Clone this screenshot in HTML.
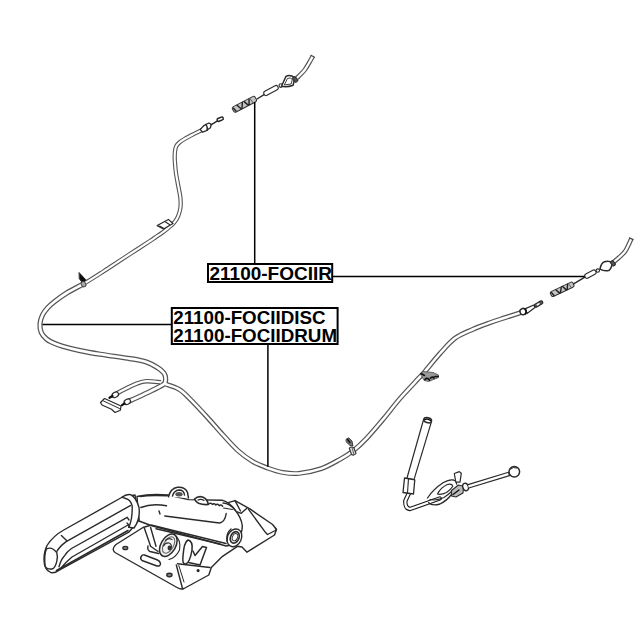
<!DOCTYPE html>
<html><head><meta charset="utf-8">
<style>
html,body{margin:0;padding:0;background:#fff;width:640px;height:640px;overflow:hidden}
svg{display:block}
.draw{filter:blur(0.3px)}
text{font-family:"Liberation Sans",sans-serif;font-weight:bold;fill:#000}
.cab{fill:none;stroke:#3a3a3a;stroke-width:5.4;stroke-linecap:butt;stroke-linejoin:round}
.cabi{fill:none;stroke:#fff;stroke-width:2.9;stroke-linecap:butt;stroke-linejoin:round}
.ln{fill:none;stroke:#222;stroke-width:1.1;stroke-linejoin:round;stroke-linecap:round}
.lw{fill:#fff;stroke:#222;stroke-width:1.1;stroke-linejoin:round}
</style></head>
<body>
<svg width="640" height="640" viewBox="0 0 640 640">
<defs><filter id="soft" x="-5%" y="-5%" width="110%" height="110%"><feGaussianBlur stdDeviation="0.3"/></filter></defs>
<rect width="640" height="640" fill="#fff"/>
<g filter="url(#soft)">

<path fill="none" stroke="#555" stroke-width="4.6" stroke-linejoin="round" d="M161.00,382.30 C158.57,382.12 150.37,381.02 146.40,381.20 C142.43,381.38 141.08,381.93 137.20,383.40 C133.32,384.87 126.63,388.23 123.10,390.00 C119.57,391.77 117.18,393.33 116.00,394.00"/>
<path fill="none" stroke="#555" stroke-width="4.9" stroke-linejoin="round" d="M165.00,384.00 C167.37,384.90 175.00,386.87 179.20,389.40 C183.40,391.93 185.48,394.52 190.20,399.20 C194.92,403.88 202.12,411.63 207.50,417.50 C212.88,423.37 217.50,428.95 222.50,434.40 C227.50,439.85 232.50,445.70 237.50,450.20 C242.50,454.70 247.50,458.43 252.50,461.40 C257.50,464.37 262.50,466.17 267.50,468.00 C272.50,469.83 277.29,471.50 282.50,472.40 C287.71,473.30 292.29,474.03 298.75,473.40 C305.21,472.77 314.38,470.95 321.25,468.60 C328.12,466.25 334.69,462.25 340.00,459.30 C345.31,456.35 348.73,454.33 353.10,450.90 C357.48,447.47 361.23,443.98 366.25,438.70 C371.27,433.42 377.57,425.90 383.20,419.20 C388.82,412.50 394.07,405.33 400.00,398.50 C405.93,391.67 414.67,382.62 418.75,378.20 C422.83,373.78 420.96,376.12 424.50,372.00 C428.04,367.88 434.92,359.12 440.00,353.50 C445.08,347.88 449.58,342.30 455.00,338.30 C460.42,334.30 466.67,332.10 472.50,329.50 C478.33,326.90 484.58,324.67 490.00,322.70 C495.42,320.73 499.75,319.42 505.00,317.70 C510.25,315.98 518.75,313.28 521.50,312.40"/>
<path fill="none" stroke="#555" stroke-width="4.6" stroke-linejoin="round" d="M297.00,78.00 C297.67,77.33 299.67,75.42 301.00,74.00 C302.33,72.58 303.67,71.33 305.00,69.50 C306.33,67.67 307.70,65.21 309.00,63.00 C310.30,60.79 312.17,57.38 312.80,56.25"/>
<path fill="none" stroke="#555" stroke-width="4.6" stroke-linejoin="round" d="M612.70,262.80 C613.75,261.92 617.00,259.32 619.00,257.50 C621.00,255.68 623.12,253.98 624.70,251.90 C626.28,249.82 627.40,247.19 628.50,245.00 C629.60,242.81 630.83,239.79 631.30,238.75"/>
<path fill="none" stroke="#555" stroke-width="4.3" stroke-linejoin="round" d="M201.90,130.00 C200.43,130.73 195.92,132.94 193.10,134.40 C190.28,135.86 187.28,137.40 185.00,138.75 C182.72,140.10 180.86,141.25 179.40,142.50 C177.94,143.75 176.98,144.79 176.25,146.25 C175.52,147.71 175.26,149.38 175.00,151.25 C174.74,153.12 174.70,155.54 174.70,157.50 C174.70,159.46 174.80,160.50 175.00,163.00 C175.20,165.50 175.38,168.83 175.90,172.50 C176.42,176.17 177.37,180.92 178.10,185.00 C178.83,189.08 179.88,193.46 180.30,197.00 C180.72,200.54 180.75,203.67 180.60,206.25 C180.45,208.83 180.02,210.42 179.40,212.50 C178.78,214.58 177.95,216.88 176.90,218.75 C175.85,220.62 174.57,222.19 173.10,223.75 C171.63,225.31 169.87,226.64 168.10,228.10 C166.33,229.56 164.68,230.92 162.50,232.50 C160.32,234.08 157.08,236.18 155.00,237.60 C152.92,239.02 154.17,238.27 150.00,241.00 C145.83,243.73 136.67,249.65 130.00,254.00 C123.33,258.35 114.38,264.23 110.00,267.10 C105.62,269.97 107.92,268.55 103.75,271.20 C99.58,273.85 91.04,279.45 85.00,283.00"/>
<path fill="none" stroke="#555" stroke-width="5.2" stroke-linejoin="round" d="M85.00,283.00 C78.96,286.55 72.50,289.46 67.50,292.50 C62.50,295.54 58.33,298.67 55.00,301.25 C51.67,303.83 49.58,305.71 47.50,308.00 C45.42,310.29 43.75,312.38 42.50,315.00 C41.25,317.62 40.21,320.83 40.00,323.75 C39.79,326.67 40.21,330.00 41.25,332.50 C42.29,335.00 44.58,337.18 46.25,338.75 C47.92,340.32 48.54,340.65 51.25,341.90 C53.96,343.15 57.71,344.80 62.50,346.25 C67.29,347.70 73.75,349.28 80.00,350.60 C86.25,351.93 91.67,352.87 100.00,354.20 C108.33,355.53 122.27,357.30 130.00,358.60 C137.73,359.90 141.84,360.52 146.40,362.00 C150.96,363.48 154.43,365.67 157.35,367.50 C160.27,369.33 162.53,371.18 163.90,373.00 C165.28,374.82 165.60,376.57 165.60,378.40 C165.60,380.23 166.18,381.98 163.90,384.00 C161.62,386.02 156.35,388.25 151.90,390.50 C147.45,392.75 141.18,395.67 137.20,397.50 C133.22,399.33 129.53,400.83 128.00,401.50"/>
<path fill="none" stroke="#fff" stroke-width="2.2" stroke-linejoin="round" d="M161.00,382.30 C158.57,382.12 150.37,381.02 146.40,381.20 C142.43,381.38 141.08,381.93 137.20,383.40 C133.32,384.87 126.63,388.23 123.10,390.00 C119.57,391.77 117.18,393.33 116.00,394.00"/>
<path fill="none" stroke="#fff" stroke-width="2.5" stroke-linejoin="round" d="M165.00,384.00 C167.37,384.90 175.00,386.87 179.20,389.40 C183.40,391.93 185.48,394.52 190.20,399.20 C194.92,403.88 202.12,411.63 207.50,417.50 C212.88,423.37 217.50,428.95 222.50,434.40 C227.50,439.85 232.50,445.70 237.50,450.20 C242.50,454.70 247.50,458.43 252.50,461.40 C257.50,464.37 262.50,466.17 267.50,468.00 C272.50,469.83 277.29,471.50 282.50,472.40 C287.71,473.30 292.29,474.03 298.75,473.40 C305.21,472.77 314.38,470.95 321.25,468.60 C328.12,466.25 334.69,462.25 340.00,459.30 C345.31,456.35 348.73,454.33 353.10,450.90 C357.48,447.47 361.23,443.98 366.25,438.70 C371.27,433.42 377.57,425.90 383.20,419.20 C388.82,412.50 394.07,405.33 400.00,398.50 C405.93,391.67 414.67,382.62 418.75,378.20 C422.83,373.78 420.96,376.12 424.50,372.00 C428.04,367.88 434.92,359.12 440.00,353.50 C445.08,347.88 449.58,342.30 455.00,338.30 C460.42,334.30 466.67,332.10 472.50,329.50 C478.33,326.90 484.58,324.67 490.00,322.70 C495.42,320.73 499.75,319.42 505.00,317.70 C510.25,315.98 518.75,313.28 521.50,312.40"/>
<path fill="none" stroke="#fff" stroke-width="2.2" stroke-linejoin="round" d="M297.00,78.00 C297.67,77.33 299.67,75.42 301.00,74.00 C302.33,72.58 303.67,71.33 305.00,69.50 C306.33,67.67 307.70,65.21 309.00,63.00 C310.30,60.79 312.17,57.38 312.80,56.25"/>
<path fill="none" stroke="#fff" stroke-width="2.2" stroke-linejoin="round" d="M612.70,262.80 C613.75,261.92 617.00,259.32 619.00,257.50 C621.00,255.68 623.12,253.98 624.70,251.90 C626.28,249.82 627.40,247.19 628.50,245.00 C629.60,242.81 630.83,239.79 631.30,238.75"/>
<path fill="none" stroke="#fff" stroke-width="2.1" stroke-linejoin="round" d="M201.90,130.00 C200.43,130.73 195.92,132.94 193.10,134.40 C190.28,135.86 187.28,137.40 185.00,138.75 C182.72,140.10 180.86,141.25 179.40,142.50 C177.94,143.75 176.98,144.79 176.25,146.25 C175.52,147.71 175.26,149.38 175.00,151.25 C174.74,153.12 174.70,155.54 174.70,157.50 C174.70,159.46 174.80,160.50 175.00,163.00 C175.20,165.50 175.38,168.83 175.90,172.50 C176.42,176.17 177.37,180.92 178.10,185.00 C178.83,189.08 179.88,193.46 180.30,197.00 C180.72,200.54 180.75,203.67 180.60,206.25 C180.45,208.83 180.02,210.42 179.40,212.50 C178.78,214.58 177.95,216.88 176.90,218.75 C175.85,220.62 174.57,222.19 173.10,223.75 C171.63,225.31 169.87,226.64 168.10,228.10 C166.33,229.56 164.68,230.92 162.50,232.50 C160.32,234.08 157.08,236.18 155.00,237.60 C152.92,239.02 154.17,238.27 150.00,241.00 C145.83,243.73 136.67,249.65 130.00,254.00 C123.33,258.35 114.38,264.23 110.00,267.10 C105.62,269.97 107.92,268.55 103.75,271.20 C99.58,273.85 91.04,279.45 85.00,283.00"/>
<path fill="none" stroke="#fff" stroke-width="2.7" stroke-linejoin="round" d="M85.00,283.00 C78.96,286.55 72.50,289.46 67.50,292.50 C62.50,295.54 58.33,298.67 55.00,301.25 C51.67,303.83 49.58,305.71 47.50,308.00 C45.42,310.29 43.75,312.38 42.50,315.00 C41.25,317.62 40.21,320.83 40.00,323.75 C39.79,326.67 40.21,330.00 41.25,332.50 C42.29,335.00 44.58,337.18 46.25,338.75 C47.92,340.32 48.54,340.65 51.25,341.90 C53.96,343.15 57.71,344.80 62.50,346.25 C67.29,347.70 73.75,349.28 80.00,350.60 C86.25,351.93 91.67,352.87 100.00,354.20 C108.33,355.53 122.27,357.30 130.00,358.60 C137.73,359.90 141.84,360.52 146.40,362.00 C150.96,363.48 154.43,365.67 157.35,367.50 C160.27,369.33 162.53,371.18 163.90,373.00 C165.28,374.82 165.60,376.57 165.60,378.40 C165.60,380.23 166.18,381.98 163.90,384.00 C161.62,386.02 156.35,388.25 151.90,390.50 C147.45,392.75 141.18,395.67 137.20,397.50 C133.22,399.33 129.53,400.83 128.00,401.50"/>
<g id="lever" fill="#fff" stroke="#2a2a2a" stroke-width="1.4" stroke-linejoin="round" stroke-linecap="round">
  <!-- base plate -->
  <path d="M116,544.5 L143,527.5 L235,500.6 L250.3,509.2 L272.6,524.5 L276.5,529.5 L274.5,535 L247,552.2 L242,547 L237.5,546.3 L222.5,556.3 L211.3,567.5 L208.8,575 L184,588.5 Q181,590 177,587.5 L115,552.5 Q111,549 116,544.5 Z"/>
  <!-- right bracket inner tab line -->
  <path d="M248.4,509.2 L265.6,532.6 L267.5,534.5 L276.3,530 L275.3,528" fill="none"/>
  <path d="M235.2,511.2 L241.2,513.3 L246.8,508.3" fill="none"/>
  <path d="M235,500.6 L240.5,511" fill="none"/>
  <!-- plate bend line -->
  <path d="M176.3,565 L182.5,588.5" fill="none"/>
  <path d="M178.8,565.5 L184,582" fill="none" stroke-width="1"/>
  <path d="M177.5,563.8 L210,567.5" fill="none"/>
  <!-- slot -->
  <path d="M141.5,556 Q139.5,558.5 142,560.5 L157,566 Q160.5,566.5 160.5,563.5 Q160,561 157.5,560 L144.5,555 Q142.5,554.5 141.5,556 Z"/>
  <ellipse cx="125.3" cy="548" rx="2.4" ry="1.6" fill="#888"/>
  <ellipse cx="169.4" cy="575" rx="2.6" ry="1.7" fill="#888"/>
  <circle cx="198.1" cy="570.6" r="0.9" fill="#444"/>
  <!-- leg -->
  <path d="M144.4,528.3 L150.6,546.3 L158,551.5" fill="none"/>
  <path d="M150.6,527.5 L156,546.3" fill="none"/>
  <path d="M148,546 Q147,550 150,551.5 L158.5,553.5" fill="none"/>
  <!-- spring -->
  <path d="M174.5,534.8 Q181.5,540 179.5,550 Q176,557.5 169,559.5" fill="none" stroke-width="1.1"/>
  <ellipse cx="168.3" cy="545.2" rx="7.4" ry="12.2" transform="rotate(30 168.3 545.2)" fill="#f2f2f2" stroke-width="1.5"/>
  <ellipse cx="168.6" cy="545" rx="4.9" ry="9" transform="rotate(30 168.6 545)" fill="none" stroke="#666" stroke-width="1.1"/>
  <path d="M165.5,540.5 Q168,537.5 172,539.5 M163.5,546 Q165,542.5 169,543 Q172.5,544.5 171,548.5" fill="none" stroke="#333" stroke-width="1.2"/>
  <ellipse cx="169.5" cy="548" rx="2" ry="2.4" fill="#333" stroke="none"/>
  <!-- bracket loop -->
  <path d="M188,540 Q193,541 192,550 Q190,562 186,564 Q182,565 183,556 Q184,542 188,540 Z" fill="none" stroke-width="1.5"/>
  <path d="M188.5,562.5 L200,565 L206.5,547.5 L202.5,546.5 L195,555.5 L193,551" fill="none" stroke-width="1.5"/>
  <!-- lever body -->
  <path d="M137,496.5 Q150,493.5 168,495 L188.5,499.6 L222,500.2 Q230,502.5 235.2,510.2 Q241,517 242.3,525.5 Q242.3,534 237.2,540.7 L236,544 L226.2,546 L151,525.5 L139,521 Z"/>
  <path d="M151,525 L226,543.5" fill="none"/>
  <path d="M140,496.5 Q150,494.8 167.5,495.8" fill="none"/>
  <path d="M156,528.8 L220,544" fill="none"/>
  <path d="M140.8,507.5 Q152,503 166.5,505.8" fill="none"/>
  <path d="M164.8,516 L219.4,523 Q225,522 226.2,513.5" fill="none"/>
  <path d="M159,511 L160,514" fill="none"/>
  <!-- coil threads on top -->
  <path d="M194.5,499 Q198,495.8 202.5,497 Q207.5,499 208.3,504.5 Q203,505 198.5,503.2 Q195.5,501.5 194.5,499 Z" stroke-width="1.6"/>
  <path d="M198,500 Q201,498.5 204,500.5" fill="none" stroke-width="1.2"/>
  <path d="M209,503.8 q1.8,-1.6 3.4,0.6 q1.8,-1.6 3.4,0.6 q1.8,-1.6 3.4,0.6 q1.8,-1.6 3.4,0.6" fill="none" stroke-width="1.5"/>
  <path d="M223,503 Q230,503.5 235.2,510.2" fill="none"/>
  <path d="M223.5,508 L232.5,509.5" fill="none" stroke-width="1.1"/>
  <!-- bolt -->
  <ellipse cx="234.4" cy="537.8" rx="7" ry="9.2" transform="rotate(25 234.4 537.8)"/>
  <ellipse cx="234.8" cy="537.4" rx="4.2" ry="6" transform="rotate(25 234.8 537.4)" fill="none" stroke-width="1.6"/>
  <ellipse cx="235" cy="537.2" rx="2.5" ry="3.8" transform="rotate(25 235 537.2)" fill="none" stroke-width="0.9"/>
  <path d="M231,529 Q226,533 227,541" fill="none"/>
  <!-- eye ring on top -->
  <path d="M168.5,496.8 Q170.5,488.5 177.5,487.3 Q185.5,486.8 187.5,492.5 L188.5,498" />
  <path d="M172.5,496 Q174,490.5 179,490 Q184,490 184.5,495" fill="none"/>
  <ellipse cx="179" cy="494.3" rx="3.6" ry="2.2" fill="#555" stroke="none"/>
  <!-- grip -->
  <path d="M122.5,497 L63.8,530 Q53,536 47,545.5 Q43.8,552 44,560 Q44.2,570 51,572.6 Q55,573.2 58.3,570.6 L128.8,532.2 L139,520 L135,495 Z"/>
  <path d="M46.6,548.8 Q52,546.3 56.8,552.7 Q58,557 56.8,561.3 Q55,568.5 52,569 Q46.5,569.5 45,566 Q44,554 46.6,548.8 Z" fill="none"/>
  <path d="M56.8,551.5 Q59.5,546.5 66.2,541.6 L130.3,505.6" fill="none"/>
  <path d="M61.4,535.5 L66.6,540.5" fill="none"/>
  <path d="M59,566.7 Q61,559.5 64,556.5 Q67,551.5 71.5,548.5 L127.2,517.3 L129,520" fill="none"/>
  <path d="M61.5,567.5 Q66,562 72,557 L128,525" fill="none"/>
  <path d="M56.5,570.5 L128,530.5" fill="none" stroke-width="1.6"/>
  <!-- collar -->
  <path d="M121.9,497.2 Q126,494 130.5,494.6 Q136,497 139,507.5 Q140.5,519 134,528 L128.7,527.3 Q132.5,520 132.2,506 Q130.5,500 127,499 Z"/>
  <path d="M127,523 Q130,526 128.7,527.3" fill="none"/>
</g>

<g id="details" stroke="#2a2a2a" stroke-width="1.1" fill="#fff" stroke-linejoin="round" stroke-linecap="round">
  <!-- ===== top-left fitting (cable R end at top) ===== -->
  <g transform="translate(244.4,104.3) rotate(-27.5)">
    <rect x="-12.8" y="-3" width="25.6" height="6" rx="2" fill="#c4c4c4" stroke="#333" stroke-width="1"/>
    <path d="M-11.5,-1.5 L-10.5,2 M-7,-2.5 L-5,2.5 M-4,2.5 L-1,-2.5 M1,-2.5 L3,2.5 M4,2.5 L6.5,-2.5" stroke="#222" stroke-width="1.4"/>
    <path d="M7.5,-3 L8.5,3" stroke="#555" stroke-width="0.8"/>
  </g>
  <path d="M257,99 L264.1,94.6" fill="none" stroke-width="1.4"/>
  <g transform="translate(271,90.5) rotate(-28)">
    <rect x="-7.8" y="-2.3" width="15.6" height="4.6" rx="2"/>
  </g>
  <circle cx="280.8" cy="85.6" r="1.8"/>
  <path d="M281.5,86.3 L286,76.3 Q290,74.2 294.8,77.8 L293.2,85.2 Q287,87.5 281.5,86.3 Z" stroke-width="1.5"/>
  <path d="M284.5,84.6 L287.5,78.4 Q290.5,77 292.3,79.5 L291.3,83.6 Z" fill="#fff" stroke-width="0.9"/>
  <g transform="translate(295.2,79.4) rotate(-40)"><rect x="-1.7" y="-2.7" width="3.4" height="5.4" rx="0.8" fill="#555" stroke-width="1"/></g>

  <path d="M311,55.2 L314.6,57.3 M629.4,237.9 L633.2,239.6" fill="none" stroke="#4a4a4a" stroke-width="1.2"/>
  <!-- ===== top-right fitting ===== -->
  <g transform="translate(562.2,289.3) rotate(-25.6)">
    <rect x="-12.5" y="-2.7" width="25" height="5.4" rx="2" fill="#c4c4c4" stroke="#333" stroke-width="1"/>
    <path d="M-11,-1.5 L-10,2 M-6,-2.3 L-4,2.3 M-3,2.3 L0,-2.3 M1.5,-2.3 L3.5,2.3 M4.5,2.3 L7,-2.3" stroke="#222" stroke-width="1.4"/>
    <path d="M8,-2.7 L9,2.7" stroke="#555" stroke-width="0.8"/>
  </g>
  <path d="M573.6,283.9 L585.3,276.9" fill="none" stroke-width="1.4"/>
  <g transform="translate(590.4,274.1) rotate(-28)">
    <rect x="-6" y="-2.3" width="12" height="4.6" rx="2"/>
  </g>
  <circle cx="597.8" cy="270.6" r="1.7"/>
  <path d="M600,269.2 Q601,263 604.5,261.8 Q609,260.5 612.4,262.8 Q611.5,268.5 608.7,270.6 Q604,271.5 600,269.2 Z" stroke-width="1.5"/>
  <g transform="translate(612.9,263.3) rotate(-40)"><rect x="-1.6" y="-2.6" width="3.2" height="5.2" rx="0.8" fill="#555" stroke-width="1"/></g>

  <!-- ===== left cable tip ferrule ===== -->
  <path d="M200.3,129.4 L204.2,125.3 L208.8,123 L211.3,124.3 L210.4,127.8 L206,130.8 L202.3,132.2 Z" stroke-width="1.3"/>
  <path d="M205.8,124.6 Q208,127 207.2,130.3" fill="none" stroke-width="1.4"/>
  <path d="M211,124.8 L217.5,120.8" fill="none" stroke-width="1.5"/>
  <g transform="translate(220.2,119.2) rotate(-22)">
    <rect x="-3.2" y="-1.5" width="6.4" height="3" rx="1.4" fill="#fff" stroke="#222" stroke-width="1.4"/>
  </g>
  <!-- ===== right cable tip ferrule ===== -->
  <path d="M525.5,308.6 L533.8,305 L535,307.6 L527,313.6 Z" stroke-width="1.2"/>
  <ellipse cx="523" cy="311.6" rx="3" ry="3.1" stroke-width="1.5" transform="rotate(-28 523 311.6)"/>
  <path d="M525.2,309 Q527,311.5 525.5,314" fill="none" stroke="#111" stroke-width="1.5"/>
  <g transform="translate(538.6,304) rotate(-30)">
    <rect x="-4.6" y="-1.7" width="9.2" height="3.4" rx="1.5" fill="#555" stroke="#222" stroke-width="1"/>
    <ellipse cx="-0.5" cy="0" rx="1.8" ry="0.8" fill="#fff" stroke="none"/>
  </g>
  <!-- ===== clips on cable ===== -->
  <!-- clip left upper at (165,225) -->
  <path d="M157.2,225.6 L168.4,219.4 L173,223.5 L163.5,229 Z" stroke-width="1.2"/>
  <path d="M159.5,226 L163.5,228.2 M165.5,222 L169.5,224.5" fill="none" stroke-width="1.1"/>
  <!-- black arrow tab at (82,278) -->
  <path d="M79.3,272.8 L85.8,279.8 L83,283.5 L79.5,279 Z" fill="#111" stroke="#111" stroke-width="0.8"/>
  <ellipse cx="83.5" cy="284.2" rx="2.2" ry="2.8" transform="rotate(-30 83.5 284.2)" fill="#aaa" stroke="#444" stroke-width="0.9"/>
  <!-- clip at (353,450) -->
  <path d="M346.5,439 L348.8,437.8 L352,441 L353,446 L350,445.5 L346.3,442 Z" fill="#777" stroke="#333" stroke-width="0.9"/>
  <path d="M347.5,439.5 L350,442.5" fill="none" stroke="#111" stroke-width="1.5"/>
  <path d="M349.3,448.2 Q351.5,446 354,448 L356,453.5 Q354,456 351.5,454.5 Z" fill="#ddd" stroke="#333" stroke-width="1.1"/>
  <path d="M352,447.5 L354,454.5" fill="none" stroke="#555" stroke-width="0.9"/>
  <!-- clip at (430,377) -->
  <path d="M420.5,373.5 L423,371.5 L433,372.5 L438.5,375 L438.5,377.5 L428.5,381.5 L424.5,380.5 Z" fill="#9a9a9a" stroke="#555" stroke-width="0.9"/>
  <path d="M425,379.5 Q427,377 429.5,380 M430.5,378 Q433,376.5 434,378 M435,376.5 L438,376.5" fill="none" stroke="#111" stroke-width="1.7"/>
  <path d="M421,373.5 L424.5,375.5" fill="none" stroke="#111" stroke-width="1.5"/>

  <!-- ===== bracket at bottom of equalizer (100-122,397-412) ===== -->
  <path d="M100.5,402.5 L104.5,398.5 L121,406 L120.3,410.3 L115,412.5 L111.5,409.2 L102,405 Z" stroke-width="1.2"/>
  <path d="M103.5,401 L119.5,408.5" fill="none" stroke-width="1"/>
  <ellipse cx="115.3" cy="394.8" rx="3.4" ry="2.5" transform="rotate(-28 115.3 394.8)" stroke-width="1.2"/>
  <path d="M109.5,397.8 L112.5,396" fill="none" stroke-width="2.2" stroke="#111"/>
  <ellipse cx="127.3" cy="401.8" rx="3.4" ry="2.5" transform="rotate(-28 127.3 401.8)" stroke-width="1.2"/>
  <path d="M122,405.2 L124.6,403.4" fill="none" stroke-width="2.2" stroke="#111"/>

  <!-- ===== bottom-right cable assembly ===== -->
  <!-- tube bend -->
  <path d="M409,493 L405.3,501 Q405,508.5 410,509 L439.7,498.5" fill="none" stroke="#1a1a1a" stroke-width="4.4"/>
  <path d="M409,493 L405.3,501 Q405,508.5 410,509 L439.7,498.5" fill="none" stroke="#fff" stroke-width="2.2"/>
  <!-- rod -->
  <path d="M423.3,420.5 L407,478 L414,479.6 L431.4,421.8 Z" stroke-width="1.2"/>
  <ellipse cx="427.6" cy="420.2" rx="4" ry="2.5" transform="rotate(18 427.6 420.2)" stroke-width="1.5"/>
  <path d="M424.8,419.6 Q427.5,418 430.3,420.5" fill="none" stroke="#111" stroke-width="1.6"/>
  <!-- hex nut -->
  <path d="M404.5,478 L414.8,479.8 L413.5,494 L403,492.5 Z" stroke-width="1.3"/>
  <path d="M408.5,478.5 L407.5,493" fill="none"/>
  <!-- clamp loops -->
  <path d="M427.5,498 Q433,489.5 443,482.8 Q449.5,479 453.5,480 Q457,481.5 456.5,484" fill="none" stroke-width="1.3"/>
  <path d="M428.6,502.8 Q432,506.2 440,504 Q447,500.5 451,495 Q454.5,489.5 458,485.5" fill="none" stroke-width="1.3"/>
  <path d="M430,499.5 Q436,501 444,497.5 Q449,494 452,491" fill="none" stroke-width="1.1"/>
  <path d="M437.5,494 Q441,487.2 447.5,484.5 Q452,483.3 452.8,486.3 Q450.5,490 446.5,492.5 Q441,495.2 437.5,494 Z" fill="none" stroke-width="1.2"/>
  <path d="M451.5,490.5 L458.5,485 L463.5,486.2 L463,493 L456,497 L451.5,496 Z" fill="#bbb" stroke-width="1.1"/>
  <path d="M453,494.5 L459,490" fill="none" stroke="#111" stroke-width="1.4"/>
  <!-- tab -->
  <path d="M454.3,473.5 L459.3,471.6 L461.3,473.2 L460,482.2 L455.8,482.2 Z" stroke-width="1.2"/>
  <!-- fitting -->
  <ellipse cx="465.6" cy="487" rx="2.7" ry="3.8" transform="rotate(-20 465.6 487)" stroke-width="1.4"/>
  <!-- rod right -->
  <path d="M468,484.6 L508.5,472.3 L509.5,475.6 L468.8,488" stroke-width="1.1"/>
  <circle cx="514.3" cy="471.7" r="5.3" stroke-width="1.5"/>
  <path d="M510.5,469 Q513,466.5 517,468" fill="none" stroke-width="1"/>
</g>

</g>
<!-- leader lines -->
<g stroke="#000" stroke-width="1.5" fill="none">
  <line x1="254.7" y1="102" x2="254.7" y2="264"/>
  <line x1="332" y1="276.4" x2="584.5" y2="276.4"/>
  <line x1="42.5" y1="324.4" x2="172" y2="324.4"/>
  <line x1="267.9" y1="344" x2="267.9" y2="466.7"/>
</g>

<!-- label boxes -->
<rect x="208" y="264" width="124.2" height="18" fill="#fff" stroke="#000" stroke-width="2"/>
<text x="209.5" y="280.3" font-size="19">21100-FOCIIR</text>

<rect x="171.8" y="308" width="165.8" height="36" fill="#fff" stroke="#000" stroke-width="2"/>
<text x="173.2" y="324.2" font-size="18.8">21100-FOCIIDISC</text>
<text x="173.2" y="341.6" font-size="18.8">21100-FOCIIDRUM</text>

</svg>
</body></html>
